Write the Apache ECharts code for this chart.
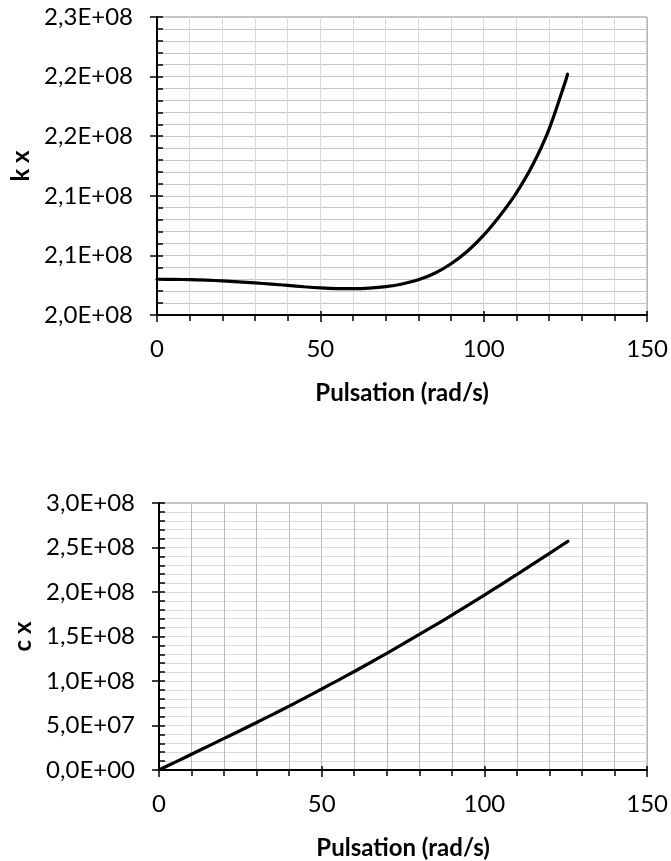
<!DOCTYPE html>
<html>
<head>
<meta charset="utf-8">
<script src="https://cdn.jsdelivr.net/npm/echarts@6/dist/echarts.min.js"></script>
<style>
  html, body { margin: 0; padding: 0; background: #fff; }
  #chart { width: 671px; height: 861px; }
</style>
</head>
<body>
<div id="chart"></div>
<script>
// Pulsation (rad/s) sample points shared by both curves
const pulsation = [0, 5, 10, 15, 20, 25, 30, 35, 40, 45, 50, 55, 60, 65, 70, 75, 80,
  85, 90, 95, 100, 105, 110, 115, 120, 125, 125.66];

// Stiffness k x
const kx = [2.0300e8, 2.0299e8, 2.0296e8, 2.0292e8, 2.0286e8, 2.0278e8, 2.0269e8,
  2.0259e8, 2.0248e8, 2.0237e8, 2.0228e8, 2.0222e8, 2.0221e8, 2.0226e8, 2.0238e8,
  2.0260e8, 2.0295e8, 2.0350e8, 2.0430e8, 2.0535e8, 2.0670e8, 2.0835e8, 2.1025e8,
  2.1260e8, 2.1560e8, 2.1960e8, 2.2020e8];

// Damping c x
const cx = [0, 0.088e8, 0.177e8, 0.266e8, 0.355e8, 0.444e8, 0.534e8, 0.625e8, 0.718e8,
  0.813e8, 0.910e8, 1.008e8, 1.107e8, 1.208e8, 1.311e8, 1.416e8, 1.523e8, 1.631e8,
  1.740e8, 1.852e8, 1.966e8, 2.080e8, 2.197e8, 2.316e8, 2.435e8, 2.554e8, 2.570e8];

// Axis tick labels
const xTickLabels = ['0', '50', '100', '150'];
const kTickLabels = ['2,0E+08', '2,1E+08', '2,1E+08', '2,2E+08', '2,2E+08', '2,3E+08'];
const cTickLabels = ['0,0E+00', '5,0E+07', '1,0E+08', '1,5E+08', '2,0E+08', '2,5E+08', '3,0E+08'];

const FONT = 'Lato';
const textStyle = { fontFamily: FONT, fontSize: 24, color: '#000' };
const nameStyle = { fontFamily: FONT, fontSize: 24, fontWeight: 'bold', color: '#000' };

function pickLabel(labels, min, step) {
  return function (v) { return labels[Math.round((v - min) / step)]; };
}

function xAxes(gridIndex, vColor) {
  const main = {
    type: 'value', gridIndex: gridIndex, position: 'bottom',
    min: 0, max: 150, interval: 50,
    name: 'Pulsation (rad/s)', nameLocation: 'middle', nameGap: 66,
    nameTextStyle: nameStyle,
    axisLine: { show: true, onZero: false, lineStyle: { color: '#000', width: 2 } },
    axisTick: { show: true, inside: false, length: 7, lineStyle: { color: '#000', width: 1.5 } },
    minorTick: { show: true, splitNumber: 5, length: 6, lineStyle: { color: '#000', width: 1.5 } },
    axisLabel: Object.assign({ margin: 22, formatter: pickLabel(xTickLabels, 0, 50) }, textStyle),
    splitLine: { show: true, showMinLine: false, showMaxLine: false, lineStyle: { color: vColor, width: 1 } },
    minorSplitLine: { show: true, lineStyle: { color: vColor, width: 1 } }
  };
  // second pass for the upper half of the major ticks
  const inner = {
    type: 'value', gridIndex: gridIndex, position: 'bottom',
    min: 0, max: 150, interval: 50,
    axisLine: { show: false, onZero: false },
    axisTick: { show: true, inside: true, length: 4, lineStyle: { color: '#000', width: 1.5 } },
    axisLabel: { show: false }, splitLine: { show: false }
  };
  return [main, inner];
}

function yAxes(gridIndex, min, max, step, labels, title, gap, hColor) {
  const main = {
    type: 'value', gridIndex: gridIndex, position: 'left',
    min: min, max: max, interval: step,
    name: title, nameLocation: 'middle', nameGap: gap, nameRotate: 90,
    nameTextStyle: nameStyle,
    axisLine: { show: true, onZero: false, lineStyle: { color: '#000', width: 2 } },
    axisTick: { show: true, inside: false, length: 7, lineStyle: { color: '#000', width: 1.5 } },
    // negative length turns the minor ticks towards the plot
    minorTick: { show: true, splitNumber: 5, length: -6, lineStyle: { color: '#000', width: 1.5 } },
    axisLabel: Object.assign({ margin: 24, formatter: pickLabel(labels, min, step) }, textStyle),
    splitLine: { show: true, showMinLine: false, showMaxLine: false, lineStyle: { color: hColor, width: 1 } },
    minorSplitLine: { show: true, lineStyle: { color: hColor, width: 1 } }
  };
  const inner = {
    type: 'value', gridIndex: gridIndex, position: 'left', offset: 0,
    min: min, max: max, interval: step,
    axisLine: { show: false, onZero: false },
    axisTick: { show: true, inside: true, length: 6, lineStyle: { color: '#000', width: 1.5 } },
    axisLabel: { show: false }, splitLine: { show: false }
  };
  return [main, inner];
}

const chart = echarts.init(document.getElementById('chart'), null, { renderer: 'canvas' });

chart.setOption({
  animation: false,
  backgroundColor: '#fff',
  grid: [
    { left: 157, top: 17, width: 492, height: 298, show: true, borderColor: '#8a8a8a', borderWidth: 1, backgroundColor: 'transparent' },
    { left: 159, top: 503, width: 489, height: 268, show: true, borderColor: '#8a8a8a', borderWidth: 1, backgroundColor: 'transparent' }
  ],
  xAxis: [].concat(xAxes(0, '#d9d9d9'), xAxes(1, '#bdbdbd')),
  yAxis: [].concat(
    yAxes(0, 2.0e8, 2.25e8, 5e6, kTickLabels, 'k x', 124, '#c6c6c6'),
    yAxes(1, 0, 3.0e8, 5e7, cTickLabels, 'c x', 121, '#dadada')
  ),
  series: [
    {
      type: 'line', name: 'k x', xAxisIndex: 0, yAxisIndex: 0,
      data: pulsation.map((w, i) => [w, kx[i]]),
      showSymbol: false, smooth: 0.3,
      lineStyle: { color: '#000', width: 3.2, cap: 'round' }
    },
    {
      type: 'line', name: 'c x', xAxisIndex: 2, yAxisIndex: 2,
      data: pulsation.map((w, i) => [w, cx[i]]),
      showSymbol: false, smooth: 0.3,
      lineStyle: { color: '#000', width: 3.2, cap: 'round' }
    }
  ]
});
</script>
</body>
</html>
